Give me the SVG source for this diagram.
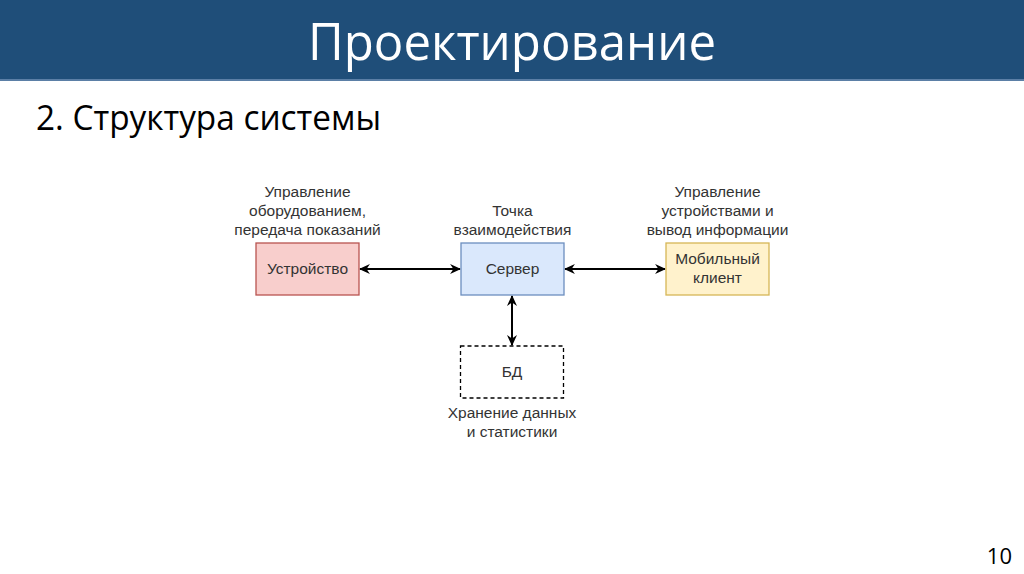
<svg xmlns="http://www.w3.org/2000/svg" width="1024" height="574" viewBox="0 0 1024 574">
<defs>
<style>
.lbl{font-family:"Liberation Sans",Arial,sans-serif;font-size:15.5px;fill:#333;text-anchor:middle}
.box{stroke-width:1.3}
.con{stroke:#000;stroke-width:2;fill:none;marker-start:url(#ah);marker-end:url(#ah)}
</style>
<marker id="ah" viewBox="0 0 10 10" refX="9" refY="5" markerWidth="11" markerHeight="10" orient="auto-start-reverse" markerUnits="userSpaceOnUse" preserveAspectRatio="none">
<path d="M0,0 L10,5 L0,10 L3,5 Z" fill="#000"/>
</marker>
</defs>
<rect width="1024" height="574" fill="#fff"/>
<rect x="0" y="0" width="1024" height="80" fill="#1f4e79"/>
<rect x="0" y="79" width="1024" height="2" fill="#5b7fa6"/>
<text x="512" y="60" font-family="'Open Sans',sans-serif" font-size="52" fill="#fff" text-anchor="middle" textLength="408" lengthAdjust="spacingAndGlyphs">Проектирование</text>
<text x="36" y="130" font-family="'Open Sans',sans-serif" font-size="34" fill="#000" textLength="345" lengthAdjust="spacingAndGlyphs">2. Структура системы</text>
<text x="1012" y="564" font-family="'Open Sans',sans-serif" font-size="22" fill="#000" text-anchor="end">10</text>
<g id="connectors">
<line class="con" x1="360" y1="269" x2="460" y2="269"/>
<line class="con" x1="565" y1="269" x2="665" y2="269"/>
<line class="con" x1="512" y1="296" x2="512" y2="345"/>
</g>
<g id="device">
<rect class="box" x="256" y="243" width="103" height="52" fill="#f8cecc" stroke="#b85450"/>
<text class="lbl" x="307.5" y="274">Устройство</text>
<text class="lbl" x="307.5" y="197">Управление</text>
<text class="lbl" x="307.5" y="216">оборудованием,</text>
<text class="lbl" x="307.5" y="235">передача показаний</text>
</g>
<g id="server">
<rect class="box" x="461" y="243" width="103" height="52" fill="#dae8fc" stroke="#6c8ebf"/>
<text class="lbl" x="512.5" y="274">Сервер</text>
<text class="lbl" x="512.5" y="216">Точка</text>
<text class="lbl" x="512.5" y="235">взаимодействия</text>
</g>
<g id="mobile">
<rect class="box" x="666" y="243" width="103" height="52" fill="#fff2cc" stroke="#d6b656"/>
<text class="lbl" x="717.5" y="264">Мобильный</text>
<text class="lbl" x="717.5" y="283">клиент</text>
<text class="lbl" x="717.5" y="197">Управление</text>
<text class="lbl" x="717.5" y="216">устройствами и</text>
<text class="lbl" x="717.5" y="235">вывод информации</text>
</g>
<g id="db">
<rect x="460.5" y="346" width="103" height="52" fill="none" stroke="#000" stroke-width="1.3" stroke-dasharray="4 3"/>
<text class="lbl" x="512" y="377">БД</text>
<text class="lbl" x="512" y="418">Хранение данных</text>
<text class="lbl" x="512" y="437">и статистики</text>
</g>
</svg>
